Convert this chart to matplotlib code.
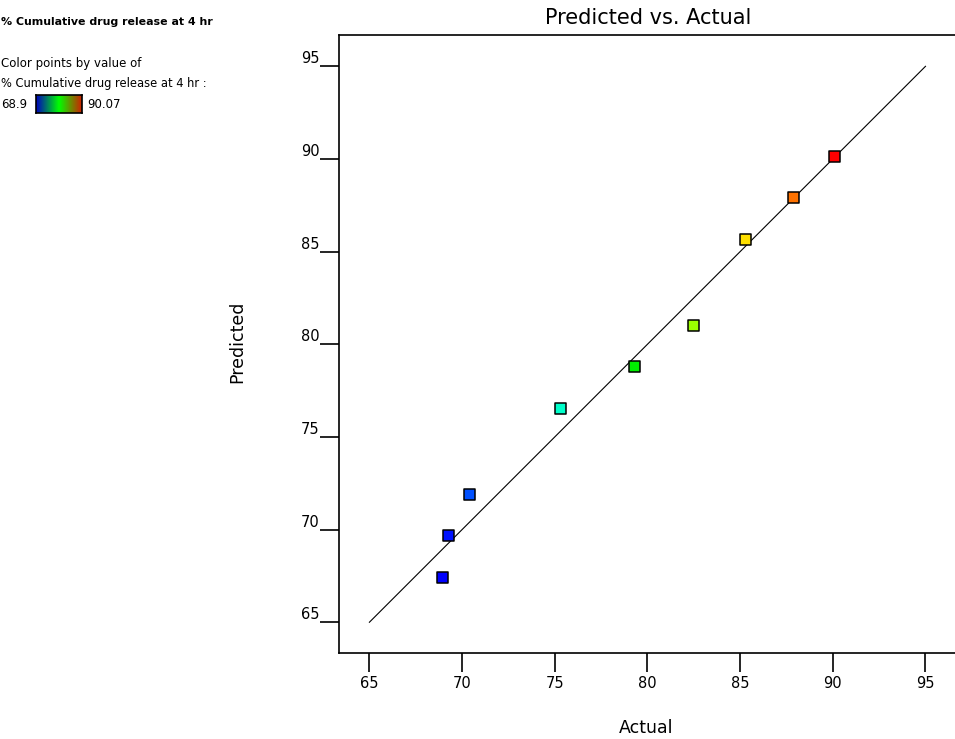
import matplotlib
matplotlib.use("Agg")
import matplotlib.pyplot as plt
from matplotlib.colors import LinearSegmentedColormap
import matplotlib.transforms as mtransforms
import numpy as np

# Data
actual = [68.92, 69.28, 70.40, 75.31, 79.28, 82.49, 85.29, 87.88, 90.08]
predicted = [67.43, 69.67, 71.91, 76.55, 78.78, 81.03, 85.65, 87.91, 90.15]
color_min = 68.9
color_max = 90.07
x_ticks = [65, 70, 75, 80, 85, 90, 95]
y_ticks = [65, 70, 75, 80, 85, 90, 95]
diag = [65, 95]
legend_title = "% Cumulative drug release at 4 hr"
legend_sub1 = "Color points by value of"
legend_sub2 = "% Cumulative drug release at 4 hr :"

plt.rcParams['font.family'] = ['DejaVu Sans']

point_cmap = LinearSegmentedColormap.from_list(
    "de_points",
    [(0.0, "#0000ff"), (0.07, "#0050ff"), (0.30, "#00ffcc"), (0.49, "#00ee00"),
     (0.64, "#99ff00"), (0.77, "#ffe600"), (0.90, "#ff7000"), (1.0, "#ff0000")])
bar_cmap = LinearSegmentedColormap.from_list(
    "de_bar", [(0.0, "#0000c0"), (0.5, "#00ff00"), (1.0, "#d02000")])

W, H = 955, 739
fig = plt.figure(figsize=(W / 100, H / 100), dpi=100)

left, right, top, bottom = 339, 957, 35, 653
ax = fig.add_axes([left / W, 1 - bottom / H, (right - left) / W, (bottom - top) / H])
ax.set_xlim(63.36, 96.7)
ax.set_ylim(63.34, 96.69)

ax.plot(diag, diag, color="black", lw=0.8, zorder=2)
ax.scatter(actual, predicted, c=actual, cmap=point_cmap, vmin=color_min, vmax=color_max,
           marker="s", s=62, edgecolors="black", linewidths=1.1, zorder=3)

ax.set_xticks(x_ticks)
ax.set_yticks(y_ticks)
ax.tick_params(direction="out", length=14, width=1.2, labelsize=10.5)
ax.tick_params(axis="x", pad=2.5)
ax.tick_params(axis="y", pad=0)
for s in ax.spines.values():
    s.set_linewidth(1.2)
ax.spines["right"].set_visible(False)

# y tick labels sit slightly above their ticks in the reference
offset = mtransforms.ScaledTranslation(0, 9 / 100, fig.dpi_scale_trans)
for lab in ax.get_yticklabels():
    lab.set_transform(lab.get_transform() + offset)

ax.set_title("Predicted vs. Actual", fontsize=15, pad=8)
ax.set_xlabel("Actual", fontsize=12.5)
ax.set_ylabel("Predicted", fontsize=12.5)
ax.xaxis.set_label_coords((646 - left) / (right - left), -(719 - bottom) / (bottom - top))
ax.yaxis.set_label_coords(-(left - 246) / (right - left), (bottom - 342) / (bottom - top))

# Legend block (top-left)
fig.text(1 / W, 1 - 22 / H, legend_title, fontsize=7.9, fontweight="bold", va="center", ha="left")
fig.text(1 / W, 1 - 63 / H, legend_sub1, fontsize=8.5, va="center", ha="left")
fig.text(1 / W, 1 - 83 / H, legend_sub2, fontsize=8.3, va="center", ha="left")
fig.text(1 / W, 1 - 104 / H, f"{color_min:g}", fontsize=8.5, va="center", ha="left")
fig.text(87 / W, 1 - 104 / H, f"{color_max:g}", fontsize=8.5, va="center", ha="left")
cax = fig.add_axes([36 / W, 1 - 113 / H, 46 / W, 18 / H])
grad = np.linspace(color_min, color_max, 256).reshape(1, -1)
cax.imshow(grad, aspect="auto", cmap=bar_cmap, vmin=color_min, vmax=color_max)
cax.set_xticks([])
cax.set_yticks([])
for s in cax.spines.values():
    s.set_linewidth(1.2)

fig.savefig("out.png", dpi=100)
